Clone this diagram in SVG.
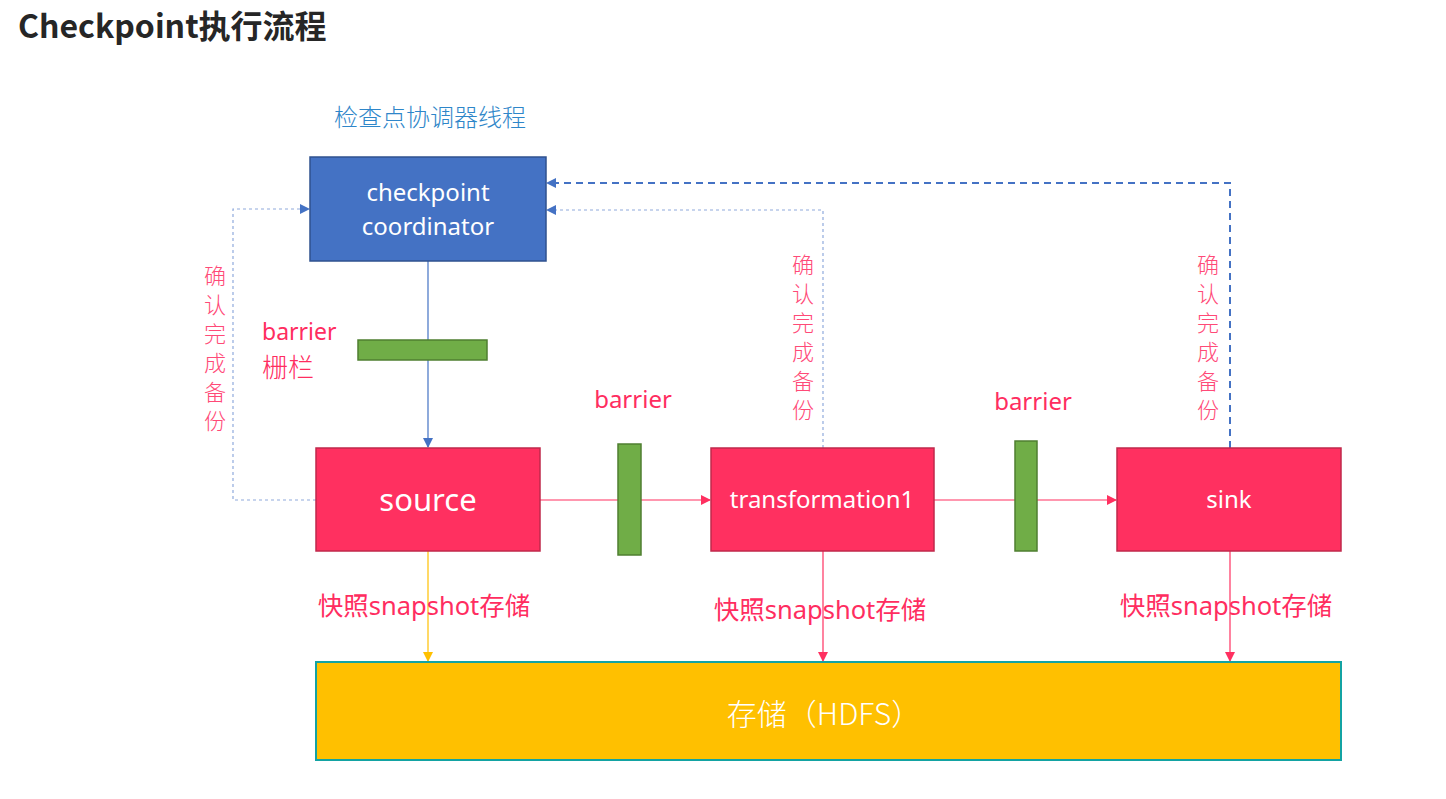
<svg xmlns="http://www.w3.org/2000/svg" width="1446" height="799" viewBox="0 0 1446 799">
<style>
text{font-family:"Noto Sans","Noto Sans CJK SC",sans-serif}
.title{font-size:32px;font-weight:bold;fill:#262626;font-family:"Noto Sans CJK SC","Noto Sans",sans-serif}
.blue{font-size:24px;fill:#2e86c9;font-weight:300;font-family:"Noto Sans CJK SC",sans-serif}
.node{font-size:24px;fill:#fff;text-anchor:middle}
.red{fill:#ff2d5f;font-size:24px}
.cjk{font-weight:300;font-family:"Noto Sans CJK SC",sans-serif}
.vert{fill:#ff4a77;font-size:22px;text-anchor:middle;font-weight:300;font-family:"Noto Sans CJK SC",sans-serif}
.op{fill:#ff3060;stroke:#c0294b;stroke-width:1.5}
.bar{fill:#70ad47;stroke:#4f7f30;stroke-width:1.5}
</style>
<defs>
<marker id="ab" markerWidth="10" markerHeight="10" refX="9" refY="5" orient="auto" markerUnits="userSpaceOnUse"><path d="M0,0 L10,5 L0,10 z" fill="#4472c4"/></marker>
<marker id="ar" markerWidth="10" markerHeight="10" refX="9" refY="5" orient="auto" markerUnits="userSpaceOnUse"><path d="M0,0 L10,5 L0,10 z" fill="#ff3060"/></marker>
<marker id="ay" markerWidth="10" markerHeight="10" refX="9" refY="5" orient="auto" markerUnits="userSpaceOnUse"><path d="M0,0 L10,5 L0,10 z" fill="#ffc000"/></marker>
</defs>
<text class="title" x="18" y="38">Checkpoint执行流程</text>
<text class="blue" x="334" y="126">检查点协调器线程</text>

<g id="connectors" fill="none">
<path d="M428,261 V447" stroke="#4472c4" stroke-width="1.2" marker-end="url(#ab)"/>
<path d="M540,500 H710" stroke="#ff3060" stroke-width="1.2" marker-end="url(#ar)"/>
<path d="M934,500 H1116" stroke="#ff3060" stroke-width="1.2" marker-end="url(#ar)"/>
<path d="M316,500 H233 V209 H309" stroke="#8faadc" stroke-width="1.2" stroke-dasharray="3,3" marker-end="url(#ab)"/>
<path d="M823,448 V210 H547" stroke="#8faadc" stroke-width="1.2" stroke-dasharray="3,3" marker-end="url(#ab)"/>
<path d="M1230,448 V183 H547" stroke="#4472c4" stroke-width="2" stroke-dasharray="7,5" marker-end="url(#ab)"/>
<path d="M428,551 V661" stroke="#ffc000" stroke-width="1.2" marker-end="url(#ay)"/>
<path d="M823,551 V661" stroke="#ff3060" stroke-width="1.2" marker-end="url(#ar)"/>
<path d="M1230,551 V661" stroke="#ff3060" stroke-width="1.2" marker-end="url(#ar)"/>
</g>

<g id="coordinator">
<rect x="310" y="157" width="236" height="104" fill="#4472c4" stroke="#2f528f" stroke-width="1.5"/>
<text class="node" x="428" y="201">checkpoint</text>
<text class="node" x="428" y="235">coordinator</text>
</g>

<g id="barrier0">
<rect class="bar" x="358" y="340" width="129" height="20"/>
<text class="red" x="262" y="340" style="font-size:23px">barrier</text>
<text class="red cjk" x="262" y="377" style="font-size:26px">栅栏</text>
</g>

<g id="source">
<rect class="op" x="316" y="448" width="224" height="103"/>
<text class="node" x="428" y="511" style="font-size:31px">source</text>
</g>

<g id="barrier1">
<rect class="bar" x="618" y="444" width="23" height="111"/>
<text class="red" x="633" y="408" text-anchor="middle">barrier</text>
</g>

<g id="transformation1">
<rect class="op" x="711" y="448" width="223" height="103"/>
<text class="node" x="822" y="508">transformation1</text>
</g>

<g id="barrier2">
<rect class="bar" x="1015" y="441" width="22" height="110"/>
<text class="red" x="1033" y="410" text-anchor="middle">barrier</text>
</g>

<g id="sink">
<rect class="op" x="1117" y="448" width="224" height="103"/>
<text class="node" x="1229" y="508">sink</text>
</g>

<g id="storage">
<rect x="316" y="662" width="1025" height="98" fill="#ffc000" stroke="#13a3a3" stroke-width="2"/>
<text class="node cjk" x="824" y="725" style="font-size:30px">存储（HDFS）</text>
</g>

<g id="labels">
<text class="vert" x="215"><tspan x="215" y="284">确</tspan><tspan x="215" y="313">认</tspan><tspan x="215" y="342">完</tspan><tspan x="215" y="371">成</tspan><tspan x="215" y="400">备</tspan><tspan x="215" y="429">份</tspan></text>
<text class="vert" x="803"><tspan x="803" y="273">确</tspan><tspan x="803" y="302">认</tspan><tspan x="803" y="331">完</tspan><tspan x="803" y="360">成</tspan><tspan x="803" y="389">备</tspan><tspan x="803" y="418">份</tspan></text>
<text class="vert" x="1208"><tspan x="1208" y="273">确</tspan><tspan x="1208" y="302">认</tspan><tspan x="1208" y="331">完</tspan><tspan x="1208" y="360">成</tspan><tspan x="1208" y="389">备</tspan><tspan x="1208" y="418">份</tspan></text>
<text class="red" x="424" y="615" text-anchor="middle" style="font-size:25.5px">快照snapshot存储</text>
<text class="red" x="820" y="619" text-anchor="middle" style="font-size:25.5px">快照snapshot存储</text>
<text class="red" x="1226" y="615" text-anchor="middle" style="font-size:25.5px">快照snapshot存储</text>
</g>
</svg>
